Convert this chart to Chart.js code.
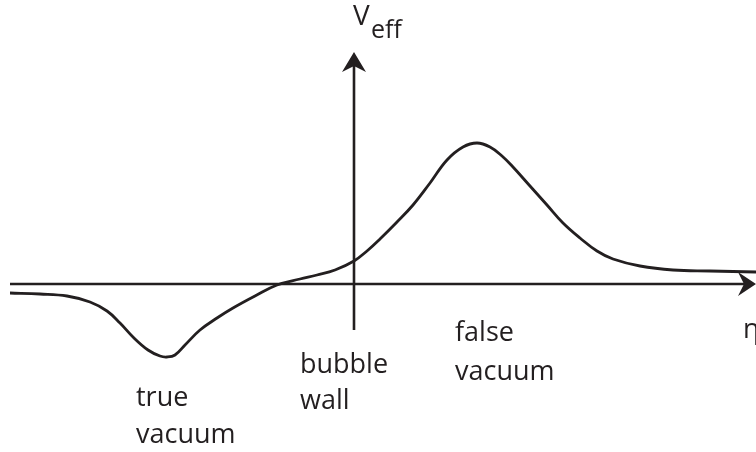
<!DOCTYPE html>
<html>
<head>
<meta charset="utf-8">
<script src="https://cdn.jsdelivr.net/npm/chart.js@4/dist/chart.umd.min.js"></script>
<style>
    html, body { margin: 0; padding: 0; background: #fff; }
    #wrap { width: 756px; height: 452px; }
</style>
</head>
<body>
<div id="wrap"><canvas id="potentialChart"></canvas></div>
<script>
// field value eta (horizontal) and effective potential V_eff (vertical)
const etaValues = [-3.44, -3.14, -2.87, -2.64, -2.47, -2.34, -2.21, -2.06, -1.94, -1.87, -1.79, -1.69,
    -1.54, -1.37, -1.21, -0.99, -0.77, -0.54, -0.37, -0.19, 0, 0.13, 0.26, 0.43, 0.59, 0.76, 0.93,
    1.09, 1.23, 1.36, 1.48, 1.59, 1.76, 1.93, 2.09, 2.26, 2.43, 2.59, 2.86, 3.19, 3.56, 4.02];
const vEffValues = [-0.09, -0.10, -0.12, -0.18, -0.27, -0.39, -0.53, -0.66, -0.72, -0.73, -0.71, -0.61,
    -0.46, -0.34, -0.24, -0.12, -0.01, 0.05, 0.09, 0.14, 0.23, 0.33, 0.45, 0.62, 0.79, 1.01, 1.24,
    1.37, 1.41, 1.37, 1.28, 1.17, 0.98, 0.79, 0.61, 0.46, 0.33, 0.25, 0.18, 0.14, 0.13, 0.12];

// axis extents in data units
const etaAxis = [-3.44, 4.02];
const vAxis = [-0.46, 2.32];

const labels = [
    {text: 'bubble', eta: -0.54, v: -0.89},
    {text: 'wall', eta: -0.54, v: -1.25},
    {text: 'false', eta: 1.01, v: -0.57},
    {text: 'vacuum', eta: 1.01, v: -0.96},
    {text: 'true', eta: -2.18, v: -1.22},
    {text: 'vacuum', eta: -2.18, v: -1.59}
];

const INK = '#231f20';

const sketchPlugin = {
    id: 'sketch',
    beforeDatasetsDraw: function (chart) {
        const ctx = chart.ctx;
        const xs = chart.scales.x, ys = chart.scales.y;
        const x0 = xs.getPixelForValue(0), y0 = ys.getPixelForValue(0);
        const xl = xs.getPixelForValue(etaAxis[0]), xr = xs.getPixelForValue(etaAxis[1]);
        const yb = ys.getPixelForValue(vAxis[0]), yt = ys.getPixelForValue(vAxis[1]);

        ctx.save();
        ctx.strokeStyle = INK;
        ctx.fillStyle = INK;
        ctx.lineWidth = 2.6;

        ctx.beginPath();
        ctx.moveTo(xl, y0);
        ctx.lineTo(xr - 10, y0);
        ctx.moveTo(x0, yb);
        ctx.lineTo(x0, yt + 10);
        ctx.stroke();

        // arrow heads
        ctx.beginPath();
        ctx.moveTo(xr, y0);
        ctx.lineTo(xr - 18, y0 - 12);
        ctx.lineTo(xr - 12, y0);
        ctx.lineTo(xr - 18, y0 + 12);
        ctx.closePath();
        ctx.fill();

        ctx.beginPath();
        ctx.moveTo(x0, yt);
        ctx.lineTo(x0 - 12, yt + 20);
        ctx.lineTo(x0, yt + 14);
        ctx.lineTo(x0 + 12, yt + 20);
        ctx.closePath();
        ctx.fill();
        ctx.restore();
    },
    afterDraw: function (chart) {
        const ctx = chart.ctx;
        const xs = chart.scales.x, ys = chart.scales.y;
        ctx.save();
        ctx.fillStyle = INK;
        ctx.textBaseline = 'alphabetic';
        ctx.textAlign = 'left';
        ctx.font = '27px "Open Sans"';
        labels.forEach(function (l) {
            ctx.fillText(l.text, xs.getPixelForValue(l.eta), ys.getPixelForValue(l.v));
        });

        // axis titles
        const x0 = xs.getPixelForValue(0);
        ctx.font = '28px "Open Sans"';
        ctx.fillText('V', x0 - 1, 25);
        ctx.font = '25px "Open Sans"';
        ctx.fillText('eff', x0 + 17, 38);
        ctx.font = '27px "Open Sans"';
        ctx.fillText('η', xs.getPixelForValue(etaAxis[1]) - 13, 338);
        ctx.restore();
    }
};

const ctx = document.getElementById('potentialChart').getContext('2d');
new Chart(ctx, {
    type: 'line',
    data: {
        datasets: [{
            data: etaValues.map((e, i) => ({x: e, y: vEffValues[i]})),
            borderColor: INK,
            borderWidth: 2.8,
            pointRadius: 0,
            fill: false,
            tension: 0.4
        }]
    },
    options: {
        responsive: true,
        maintainAspectRatio: false,
        animation: false,
        layout: {padding: 0},
        plugins: {legend: {display: false}, tooltip: {enabled: false}},
        scales: {
            x: {type: 'linear', min: -3.54, max: 4.02, display: false},
            y: {type: 'linear', min: -1.68, max: 2.84, display: false}
        }
    },
    plugins: [sketchPlugin]
});
</script>
</body>
</html>
